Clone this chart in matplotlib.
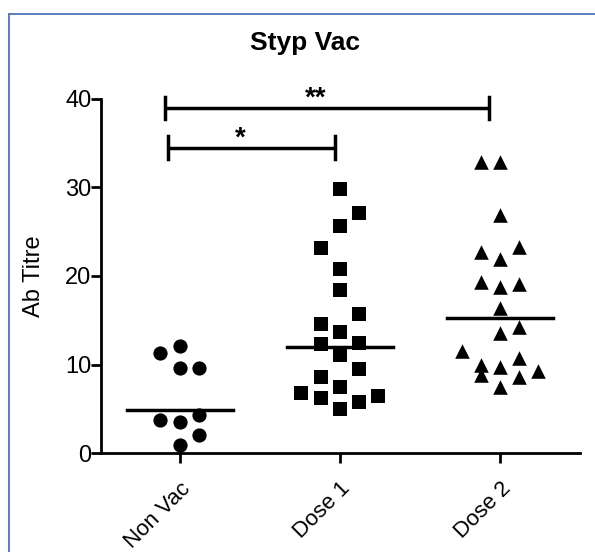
import matplotlib
matplotlib.use("Agg")
import matplotlib.pyplot as plt
from matplotlib.lines import Line2D
import numpy as np

plt.rcParams['font.family'] = ['Liberation Sans', 'DejaVu Sans']

grupper = ["Non Vac", "Dose 1", "Dose 2"]

# verdier lest av bildet, kolonne = sideforskyvning i punktskyen
non_vac = [11.3, 12.1, 9.6, 9.6, 3.7, 3.5, 4.3, 2.0, 0.9]
non_vac_kol = [-1, 0, 0, 1, -1, 0, 1, 1, 0]

dose1 = [29.8, 27.1, 25.6, 23.2, 20.8, 18.4, 15.7, 14.6, 13.7, 12.3,
         12.4, 11.1, 9.5, 8.6, 6.8, 7.5, 6.2, 6.4, 5.8, 5.0]
dose1_kol = [0, 1, 0, -1, 0, 0, 1, -1, 0, -1, 1, 0, 1, -1, -2, 0, -1, 2, 1, 0]

dose2 = [32.9, 32.9, 26.9, 22.7, 23.3, 21.9, 19.3, 18.8, 19.1, 16.4,
         14.2, 13.6, 11.5, 10.7, 9.9, 9.7, 9.3, 8.8, 8.6, 7.5]
dose2_kol = [-1, 0, 0, -1, 1, 0, -1, 0, 1, 0, 1, 0, -2, 1, -1, 0, 2, -1, 1, 0]

medianer = [4.86, 12.0, 15.3]

# signifikans: tekst, venstre x, hoyre x, hoyde
brakett_tekst = ["*", "**"]
brakett_fra = [-0.07, -0.09]
brakett_til = [0.97, 1.93]
brakett_y = [34.5, 39.0]

fig = plt.figure(figsize=(5.95, 5.52), dpi=100)
ax = fig.add_axes([0.170, 0.179, 0.805, 0.642])

steg = 0.12
serier = [(non_vac, non_vac_kol, 'o', 105), (dose1, dose1_kol, 's', 115), (dose2, dose2_kol, '^', 110)]
for i, (verdier, kol, markor, str_) in enumerate(serier):
    x = i + np.array(kol) * steg
    ax.scatter(x, verdier, marker=markor, s=str_, color='black', zorder=3, clip_on=False, linewidths=0)
    ax.plot([i - 0.33, i + 0.33], [medianer[i], medianer[i]], color='black', linewidth=2.5, zorder=4)

for tekst, x0, x1, y in zip(brakett_tekst, brakett_fra, brakett_til, brakett_y):
    ax.plot([x0, x1], [y, y], color='black', linewidth=2.5, clip_on=False, solid_capstyle='butt')
    for xe in (x0, x1):
        ax.plot([xe, xe], [y - 1.25, y + 1.25], color='black', linewidth=2.5, clip_on=False)
    ax.text((x0 + x1) / 2 - 0.07, y + 1.0, tekst, ha='center', va='center', fontsize=20, fontweight='bold')

ax.set_xlim(-0.49, 2.5)
ax.set_ylim(0, 40)
ax.set_yticks([0, 10, 20, 30, 40])
ax.set_xticks(range(len(grupper)))
ax.set_xticklabels(grupper, rotation=45, ha='right', rotation_mode='anchor', fontsize=16)
ax.tick_params(axis='y', labelsize=17, length=7, width=2, direction='out', pad=0)
ax.tick_params(axis='x', length=7, width=2, direction='out', pad=11)

for side in ['top', 'right']:
    ax.spines[side].set_visible(False)
for side in ['left', 'bottom']:
    ax.spines[side].set_linewidth(2)

ax.set_ylabel("Ab Titre", fontsize=17)
ax.yaxis.set_label_coords(-0.117, 0.5)

fig.text(305 / 595, 1 - 43 / 552, "Styp Vac", ha='center', va='center', fontsize=19, fontweight='bold')

# blaa ramme oppe og til venstre
fig.add_artist(Line2D([9 / 595, 1], [1 - 14 / 552, 1 - 14 / 552], color='#4f74b8', linewidth=1.3, transform=fig.transFigure))
fig.add_artist(Line2D([9 / 595, 9 / 595], [0, 1 - 14 / 552], color='#4f74b8', linewidth=1.3, transform=fig.transFigure))

fig.savefig("out.png", dpi=100)
